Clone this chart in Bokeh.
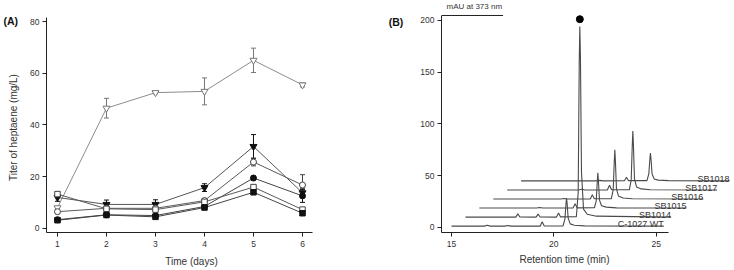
import math
from bokeh.plotting import figure
from bokeh.layouts import row, column
from bokeh.models import Range1d, FixedTicker, Whisker, TeeHead, ColumnDataSource
from bokeh.core.properties import value
from bokeh.embed import file_html
from bokeh.resources import INLINE

# ---------------- Panel A data ----------------
days = [1, 2, 3, 4, 5, 6]
s1_titer = [8.0, 46.5, 52.5, 53.0, 65.0, 55.5]      # open down-triangle (grey)
s1_err = [0.0, 3.8, 0.5, 5.2, 4.7, 0.8]
s2_titer = [12.0, 9.3, 9.3, 15.8, 31.7, 13.8]       # filled down-triangle
s2_err = [1.5, 1.7, 1.8, 1.5, 4.6, 1.8]
s3_titer = [6.5, 7.8, 7.8, 10.8, 25.7, 16.8]        # open circle
s3_err = [0.8, 0.8, 0.8, 0.8, 1.5, 4.0]
s4_titer = [3.4, 5.3, 5.0, 8.5, 19.5, 12.6]         # filled circle
s4_err = [0.5, 0.5, 0.5, 0.6, 0.8, 2.5]
s5_titer = [13.3, 7.6, 7.3, 10.3, 16.0, 7.3]        # open square
s5_err = [0.8, 0.6, 0.6, 0.6, 0.8, 0.6]
s6_titer = [3.2, 5.2, 4.5, 8.1, 14.0, 5.9]          # filled square
s6_err = [0.5, 0.5, 0.5, 0.5, 0.6, 0.5]
a_xticks = [1, 2, 3, 4, 5, 6]
a_yticks = [0, 20, 40, 60, 80]

# ---------------- Panel B data ----------------
strains = ["C-1027 WT", "SB1014", "SB1015", "SB1016", "SB1017", "SB1018"]
wt_min = [15.0, 16.6, 16.75, 16.9, 17.6, 17.75, 17.9, 19.33, 19.43, 19.53, 20.45, 20.54, 20.59, 20.62, 20.65, 20.70, 20.80, 21.0, 21.5, 25.37]
wt_mau = [1.3, 1.3, 2.1, 1.3, 1.3, 1.9, 1.3, 1.3, 5.6, 1.4, 1.5, 8.0, 22.0, 28.5, 23.0, 9.0, 3.5, 2.2, 1.6, 1.3]
sb1014_min = [15.0, 17.46, 17.56, 17.66, 18.45, 18.55, 18.65, 19.45, 19.55, 19.65, 20.42, 20.51, 20.56, 20.59, 20.62, 20.67, 20.77, 20.95, 21.4, 25.05]
sb1014_mau = [1.3, 1.3, 4.4, 1.4, 1.3, 4.2, 1.4, 1.3, 5.2, 1.5, 1.6, 25.0, 150.0, 185.5, 155.0, 45.0, 9.0, 4.0, 2.2, 1.3]
sb1015_min = [15.0, 17.8, 17.95, 18.1, 19.58, 19.68, 19.78, 20.62, 20.71, 20.76, 20.79, 20.82, 20.87, 20.97, 21.2, 21.7, 25.12]
sb1015_mau = [1.3, 1.3, 1.9, 1.3, 1.4, 5.4, 1.5, 1.6, 8.0, 26.0, 35.3, 27.0, 9.0, 3.5, 2.2, 1.5, 1.3]
sb1016_min = [15.0, 18.3, 18.45, 18.6, 19.74, 19.84, 19.94, 20.77, 20.86, 20.91, 20.94, 20.97, 21.02, 21.12, 21.35, 21.8, 25.26]
sb1016_mau = [1.3, 1.3, 1.8, 1.3, 1.4, 5.3, 1.5, 1.6, 10.0, 36.0, 48.8, 37.0, 11.0, 4.0, 2.3, 1.5, 1.3]
sb1017_min = [15.0, 18.5, 18.65, 18.8, 19.90, 20.00, 20.10, 20.97, 21.06, 21.11, 21.14, 21.17, 21.22, 21.32, 21.55, 22.0, 25.26]
sb1017_mau = [1.3, 1.3, 1.9, 1.3, 1.4, 5.8, 1.5, 1.6, 11.0, 43.0, 58.3, 44.0, 12.0, 4.2, 2.3, 1.5, 1.3]
sb1018_min = [15.0, 18.7, 18.85, 19.0, 20.05, 20.15, 20.25, 21.15, 21.24, 21.29, 21.32, 21.35, 21.40, 21.50, 21.7, 22.2, 25.18]
sb1018_mau = [1.3, 1.3, 1.8, 1.3, 1.4, 4.8, 1.5, 1.5, 8.0, 22.0, 28.3, 22.0, 8.0, 3.2, 2.0, 1.5, 1.3]
b_xticks = [15, 20, 25]
b_yticks = [0, 50, 100, 150, 200]

FONT = "Liberation Sans"
AXC = "#222222"
TXC = "#333333"
TOP_H = 252      # height of the row holding both panels
FRAME_B = 232    # page y of the x axes
BOT_H = 18       # strip holding the x-axis titles


def bare(w, xr):
    f = figure(width=w, height=TOP_H, output_backend="svg", toolbar_location=None, title=None,
               x_range=Range1d(*xr), y_range=Range1d(FRAME_B, 0), x_axis_type=None, y_axis_type=None,
               min_border_left=0, min_border_right=0, min_border_top=0,
               min_border_bottom=TOP_H - FRAME_B)
    f.outline_line_color = None
    f.grid.visible = False
    f.background_fill_color = "white"
    f.border_fill_color = "white"
    return f


def style(p, xt, yt):
    p.outline_line_color = None
    p.xgrid.visible = False
    p.ygrid.visible = False
    p.background_fill_color = "white"
    p.border_fill_color = "white"
    for ax in (p.xaxis[0], p.yaxis[0]):
        ax.axis_line_color = AXC
        ax.axis_line_width = 1
        ax.major_tick_line_color = AXC
        ax.major_tick_out = 4
        ax.major_tick_in = 0
        ax.minor_tick_line_color = None
        ax.major_label_text_font = FONT
        ax.major_label_text_font_size = "8.5px"
        ax.major_label_text_color = TXC
    p.xaxis[0].ticker = FixedTicker(ticks=xt)
    p.yaxis[0].ticker = FixedTicker(ticks=yt)
    p.xaxis[0].major_label_standoff = 4
    p.yaxis[0].major_label_standoff = 3


# ---------------- left strip of panel A: "(A)" and y title ----------------
stripA = bare(22, (0, 22))
stripA.text([10.3], [20.7], text=["(A)"], text_font=value(FONT), text_font_style="bold",
            text_font_size="10.5px", text_color="#111111", text_align="center", text_baseline="middle")
stripA.text([13.0], [127.0], text=["Titer of heptaene (mg/L)"], text_font=value(FONT),
            text_font_size="10px", text_color=TXC, text_align="center", text_baseline="middle",
            angle=math.pi / 2)

# ---------------- Panel A ----------------
ay0, ay_axis_top = -1.546, 81.55
pA = figure(width=345, height=TOP_H, output_backend="svg", toolbar_location=None, title=None,
            x_range=Range1d(0.776, 6.204), y_range=Range1d(ay0, 88.116),
            min_border_left=24, min_border_right=55, min_border_top=0,
            min_border_bottom=TOP_H - FRAME_B)
style(pA, a_xticks, a_yticks)
pA.yaxis[0].bounds = (ay0, ay_axis_top)

series = [
    (s1_titer, s1_err, "inverted_triangle", "white", "#777777", "#8c8c8c", 7),
    (s2_titer, s2_err, "inverted_triangle", "#111111", "#111111", "#555555", 7),
    (s3_titer, s3_err, "circle", "white", "#444444", "#5a5a5a", 6),
    (s4_titer, s4_err, "circle", "#111111", "#111111", "#444444", 6),
    (s5_titer, s5_err, "square", "white", "#444444", "#5a5a5a", 5.5),
    (s6_titer, s6_err, "square", "#111111", "#111111", "#444444", 5.5),
]
for vals, err, mk, fill, edge, lc, sz in series:
    pA.line(days, vals, line_color=lc, line_width=1)
for vals, err, mk, fill, edge, lc, sz in series:
    xs = [d for d, e in zip(days, err) if e > 0]
    up = [v + e for v, e in zip(vals, err) if e > 0]
    lo = [v - e for v, e in zip(vals, err) if e > 0]
    src = ColumnDataSource(dict(x=xs, upper=up, lower=lo))
    w = Whisker(source=src, base="x", upper="upper", lower="lower", line_color=edge, line_width=1,
                upper_head=TeeHead(size=5, line_color=edge, line_width=1),
                lower_head=TeeHead(size=5, line_color=edge, line_width=1), level="underlay")
    pA.add_layout(w)
    pA.scatter(days, vals, marker=mk, size=sz, fill_color=fill, line_color=edge, line_width=1)

# ---------------- left strip of panel B: "(B)" ----------------
stripB = bare(45, (367, 412))
stripB.text([395.5], [21.7], text=["(B)"], text_font=value(FONT), text_font_style="bold",
            text_font_size="10.5px", text_color="#111111", text_align="center", text_baseline="middle")

# ---------------- Panel B ----------------
bx0, bx1 = 14.511, 28.827
by0, by1 = -4.831, 219.32
pB = figure(width=322, height=TOP_H, output_backend="svg", toolbar_location=None, title=None,
            x_range=Range1d(bx0, bx1), y_range=Range1d(by0, by1),
            min_border_left=29, min_border_right=0, min_border_top=0,
            min_border_bottom=TOP_H - FRAME_B)
style(pB, b_xticks, b_yticks)
y_axis_top = 204.83
pB.xaxis[0].bounds = (bx0, 25.59)
pB.yaxis[0].bounds = (by0, y_axis_top)

dx, dy = 0.68, 8.75
traces = [(wt_min, wt_mau), (sb1014_min, sb1014_mau), (sb1015_min, sb1015_mau),
          (sb1016_min, sb1016_mau), (sb1017_min, sb1017_mau), (sb1018_min, sb1018_mau)]
for i, (t, a) in enumerate(traces):
    xs = [v + i * dx for v in t]
    ys = [v + i * dy for v in a]
    pB.line(xs, ys, line_color="#4a4a4a", line_width=1.1)
    pB.text([xs[-1]], [a[-1] + i * dy + 1.9], text=[strains[i]], text_font=value(FONT),
            text_font_size="9px", text_color=TXC, text_align="right", text_baseline="alphabetic")

# marker on tallest peak (SB1014)
k = sb1014_mau.index(max(sb1014_mau))
pB.scatter([sb1014_min[k] + dx], [sb1014_mau[k] + dy + 7.0], marker="circle", size=7,
           fill_color="black", line_color="black")

# top bracket of the y axis with its unit label
pB.segment(x0=[bx0], y0=[y_axis_top], x1=[17.52], y1=[y_axis_top], line_color=AXC, line_width=1)
pB.text([14.756], [213.7], text=["mAU at 373 nm"], text_font=value(FONT), text_font_size="8px",
        text_color=TXC, text_align="left", text_baseline="middle")

# ---------------- bottom strip: x-axis titles ----------------
stripX = figure(width=734, height=BOT_H, output_backend="svg", toolbar_location=None, title=None,
                x_range=Range1d(0, 734), y_range=Range1d(270, TOP_H), x_axis_type=None, y_axis_type=None,
                min_border_left=0, min_border_right=0, min_border_top=0, min_border_bottom=0)
stripX.outline_line_color = None
stripX.grid.visible = False
stripX.text([191.0, 564.0], [260.7, 258.8], text=["Time (days)", "Retention time (min)"],
            text_font=value(FONT), text_font_size="10px", text_color=TXC,
            text_align="center", text_baseline="middle")

layout = column(row(stripA, pA, stripB, pB, spacing=0), stripX, spacing=0)
open("out.html", "w").write(file_html(layout, INLINE))
